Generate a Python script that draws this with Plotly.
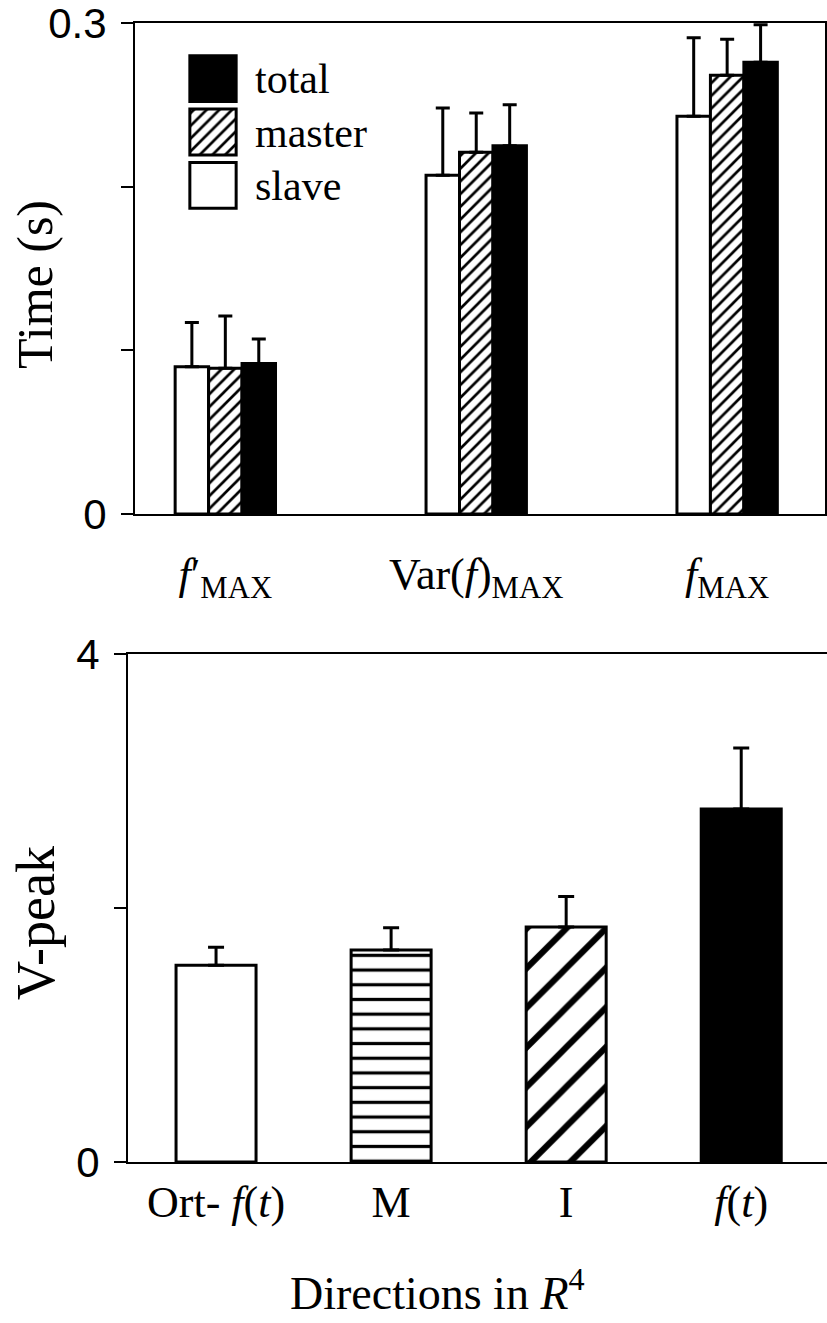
import plotly.graph_objects as go

# ---------------- data ----------------
top_categories = ["f'MAX", "Var(f)MAX", "fMAX"]
top_ticklabels = ["<i>f</i>′<sub>MAX</sub>", "Var(<i>f</i>)<sub>MAX</sub>", "<i>f</i><sub>MAX</sub>"]
slave_vals = [0.090, 0.207, 0.243]
slave_err = [0.027, 0.041, 0.048]
master_vals = [0.089, 0.221, 0.268]
master_err = [0.032, 0.024, 0.022]
total_vals = [0.092, 0.225, 0.276]
total_err = [0.015, 0.025, 0.023]
top_yticks = [0, 0.3]
top_yticklabels = ["0", "0.3"]
top_minor_ticks = [0.1, 0.2]

legend_labels = ["slave", "master", "total"]
legend_units = [1, 1, 1]

bottom_categories = ["Ort-f(t)", "M", "I", "f(t)"]
bottom_ticklabels = ["Ort- <i>f</i>(<i>t</i>)", "M", "I", "<i>f</i>(<i>t</i>)"]
vpeak_vals = [1.55, 1.67, 1.85, 2.78]
vpeak_err = [0.14, 0.175, 0.24, 0.48]
bottom_yticks = [0, 4]
bottom_yticklabels = ["0", "4"]
bottom_minor_ticks = [2]

W, H = 827, 1323
SERIF = "Liberation Serif, DejaVu Serif, serif"
NUMF = "Liberation Sans Narrow, Liberation Sans, sans-serif"

def px_x(p):
    return p / W

def px_y(p):
    return 1 - p / H

outline = dict(color="black", width=3)

def errbar(arr, w=7):
    return dict(type="data", array=arr, arrayminus=[0] * len(arr), symmetric=False,
                color="black", thickness=3, width=w)

def pat(shape, size, solidity):
    return dict(shape=shape, size=size, solidity=solidity,
                fgcolor="black", bgcolor="white", fillmode="replace")

fig = go.Figure()

# top panel bars
fig.add_trace(go.Bar(x=top_categories, y=slave_vals, name="slave",
                     marker=dict(color="white", line=outline),
                     error_y=errbar(slave_err), xaxis="x", yaxis="y"))
fig.add_trace(go.Bar(x=top_categories, y=master_vals, name="master",
                     marker=dict(color="white", line=outline, pattern=pat("/", 9, 0.3)),
                     error_y=errbar(master_err), xaxis="x", yaxis="y"))
fig.add_trace(go.Bar(x=top_categories, y=total_vals, name="total",
                     marker=dict(color="black", line=outline),
                     error_y=errbar(total_err), xaxis="x", yaxis="y"))

# legend swatches (drawn as a small bar chart)
legend_styles = [dict(color="white", line=outline),
                 dict(color="white", line=outline, pattern=pat("/", 9, 0.3)),
                 dict(color="black", line=outline)]
for lab, val, mk in zip(legend_labels, legend_units, legend_styles):
    fig.add_trace(go.Bar(y=[lab], x=[val], orientation="h", width=0.86, offsetgroup="legend",
                         marker=mk, xaxis="x3", yaxis="y3", hoverinfo="skip", showlegend=False))

# bottom panel bars
bottom_styles = [dict(color="white", line=outline),
                 dict(color="white", line=outline, pattern=pat("-", 14.7, 0.22)),
                 dict(color="white", line=outline, pattern=pat("/", 28, 0.22)),
                 dict(color="black", line=outline)]
for cat, val, err, mk in zip(bottom_categories, vpeak_vals, vpeak_err, bottom_styles):
    fig.add_trace(go.Bar(x=[cat], y=[val], width=0.457, offsetgroup="vpeak",
                         marker=mk, error_y=errbar([err], 8),
                         xaxis="x2", yaxis="y2", showlegend=False))

axis_common = dict(showline=True, linecolor="black", linewidth=2, showgrid=False,
                   zeroline=False, automargin=False)

fig.update_layout(
    width=W, height=H, autosize=False,
    margin=dict(l=0, r=0, t=0, b=0, autoexpand=False),
    paper_bgcolor="white", plot_bgcolor="white",
    barmode="group", bargap=0.6, bargroupgap=0,
    showlegend=False,
    font=dict(family=SERIF, color="black"),
    xaxis=dict(domain=[px_x(135), px_x(825)], anchor="y", type="category",
               categoryorder="array", categoryarray=top_categories,
               range=[-0.36, 2.39], tickvals=top_categories, ticktext=top_ticklabels,
               ticks="", mirror=True, tickfont=dict(size=44, family=SERIF),
               ticklabelstandoff=20, **axis_common),
    yaxis=dict(domain=[px_y(514), px_y(23)], anchor="x", range=[0, 0.3],
               tickvals=top_yticks, ticktext=top_yticklabels, ticks="outside",
               ticklen=12, tickwidth=2, tickcolor="black", mirror=True,
               ticklabeloverflow="allow",
               minor=dict(tickvals=top_minor_ticks, ticks="outside", ticklen=12,
                          tickwidth=2, tickcolor="black", showgrid=False),
               tickfont=dict(size=42, family=NUMF), ticklabelstandoff=6, **axis_common),
    xaxis2=dict(domain=[px_x(128), 1.0], anchor="y2", type="category",
                categoryorder="array", categoryarray=bottom_categories,
                range=[-0.503, 3.49], tickvals=bottom_categories, ticktext=bottom_ticklabels,
                ticks="", mirror=True, tickfont=dict(size=44, family=SERIF),
                ticklabelstandoff=0, **axis_common),
    yaxis2=dict(domain=[px_y(1162), px_y(654)], anchor="x2", range=[0, 4],
                tickvals=bottom_yticks, ticktext=bottom_yticklabels, ticks="outside",
                ticklen=12, tickwidth=2, tickcolor="black", mirror=False,
                ticklabeloverflow="allow",
                minor=dict(tickvals=bottom_minor_ticks, ticks="outside", ticklen=12,
                           tickwidth=2, tickcolor="black", showgrid=False),
                tickfont=dict(size=42, family=NUMF), ticklabelstandoff=6, **axis_common),
    xaxis3=dict(domain=[px_x(188), px_x(238)], anchor="y3", range=[-0.04, 1.04],
                visible=False, automargin=False),
    yaxis3=dict(domain=[px_y(212), px_y(52)], anchor="x3", type="category",
                categoryarray=legend_labels, categoryorder="array",
                side="right", showline=False, showgrid=False, zeroline=False, ticks="",
                automargin=False,
                tickfont=dict(size=42, family=SERIF), ticklabelstandoff=16),
    annotations=[
        dict(text="Time (s)", x=px_x(35), y=px_y(285), xref="paper", yref="paper",
             showarrow=False, textangle=-90, font=dict(size=50, family=SERIF),
             xanchor="center", yanchor="middle"),
        dict(text="V-peak", x=px_x(36), y=px_y(923), xref="paper", yref="paper",
             showarrow=False, textangle=-90, font=dict(size=54, family=SERIF),
             xanchor="center", yanchor="middle"),
        dict(text="Directions in <i>R</i><sup>4</sup>", x=px_x(437), y=px_y(1290),
             xref="paper", yref="paper", showarrow=False,
             font=dict(size=46, family=SERIF), xanchor="center", yanchor="middle"),
    ],
)

fig.write_html("out.html")
